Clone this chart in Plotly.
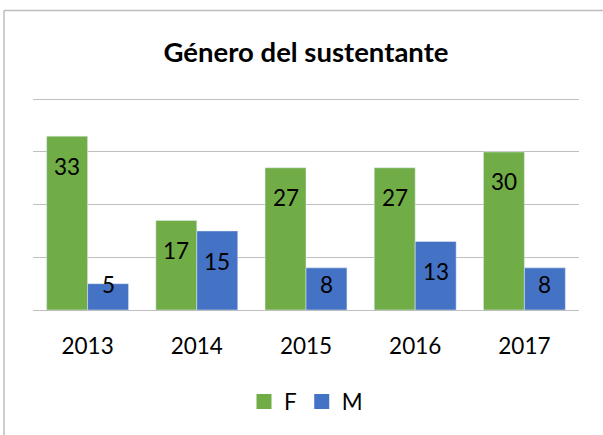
import plotly.graph_objects as go

years = ["2013", "2014", "2015", "2016", "2017"]
f_values = [33, 17, 27, 27, 30]
m_values = [5, 15, 8, 13, 8]
series_names = ["F", "M"]
title_text = "Género del sustentante"

GREEN = "#70AD47"
BLUE = "#4472C4"
FONT = "Lato"
BARGAP = 0.25
LBL = 22.5
YMAX_GRID = 40
YMAX = 41

fig = go.Figure()
fig.add_trace(go.Bar(x=years, y=f_values, name=series_names[0], marker_color=GREEN, showlegend=False))
fig.add_trace(go.Bar(x=years, y=m_values, name=series_names[1], marker_color=BLUE, showlegend=False))
# legend proxies (larger square keys)
for name, col in zip(series_names, [GREEN, BLUE]):
    fig.add_trace(go.Scatter(x=[None], y=[None], mode="markers", name=name,
                             marker=dict(symbol="square", size=15, color=col)))

# data labels: "inside end" like the original, kept inside the bar
half = (1 - BARGAP) / 4
annotations = []
for k, vals in enumerate([f_values, m_values]):
    off = -half if k == 0 else half
    for i, v in enumerate(vals):
        annotations.append(dict(
            x=i + off, y=max(v - 5.7, 4.8), xref="x", yref="y",
            text=str(v), showarrow=False, yanchor="middle", xanchor="center",
            font=dict(family=FONT, size=LBL, color="#000000"),
        ))

W, H = 603, 435
unit_px = 211 / YMAX_GRID
L, R, B = 33, 24, 125
T = 99 - (YMAX - YMAX_GRID) * unit_px
pw, ph = W - L - R, H - T - B
x_left = (4 - L) / pw
x_right = 1 + (R + 5) / pw
y_top = 1 + (T - 10) / ph
y_bot = -(B + 10) / ph

fig.update_layout(
    width=W, height=H,
    margin=dict(l=L, r=R, t=T, b=B),
    paper_bgcolor="white", plot_bgcolor="white",
    barmode="group", bargap=BARGAP, bargroupgap=0,
    title=dict(text="<b>" + title_text + "</b>", x=0.5, xref="paper", xanchor="center",
               y=1 - 52 / H, yanchor="middle", yref="container",
               font=dict(family=FONT, size=27.5, color="#000000")),
    font=dict(family=FONT, size=LBL, color="#000000"),
    showlegend=True,
    legend=dict(orientation="h", x=0.5, xanchor="center", y=(310 - 402 - 0) / ph,
                yanchor="middle", font=dict(family=FONT, size=LBL, color="#000000"),
                itemwidth=30, traceorder="normal"),
    annotations=annotations,
    shapes=[
        dict(type="line", xref="paper", yref="paper", x0=x_left, x1=x_right, y0=y_top, y1=y_top,
             line=dict(color="#BDBDBD", width=1.5)),
        dict(type="line", xref="paper", yref="paper", x0=x_left, x1=x_left, y0=y_top, y1=y_bot,
             line=dict(color="#BDBDBD", width=1.5)),
    ],
)
fig.update_xaxes(showgrid=False, showline=True, linecolor="#BFBFBF", linewidth=1.3,
                 ticks="", ticklabelstandoff=16, tickfont=dict(family=FONT, size=LBL, color="#000000"))
fig.update_yaxes(range=[0, YMAX], dtick=10, showgrid=True, gridcolor="#BFBFBF", gridwidth=1.3,
                 showticklabels=False, zeroline=False, showline=False, ticks="")

fig.write_html("out.html", config={"displayModeBar": False},
               post_script="document.body.style.margin='0';")
